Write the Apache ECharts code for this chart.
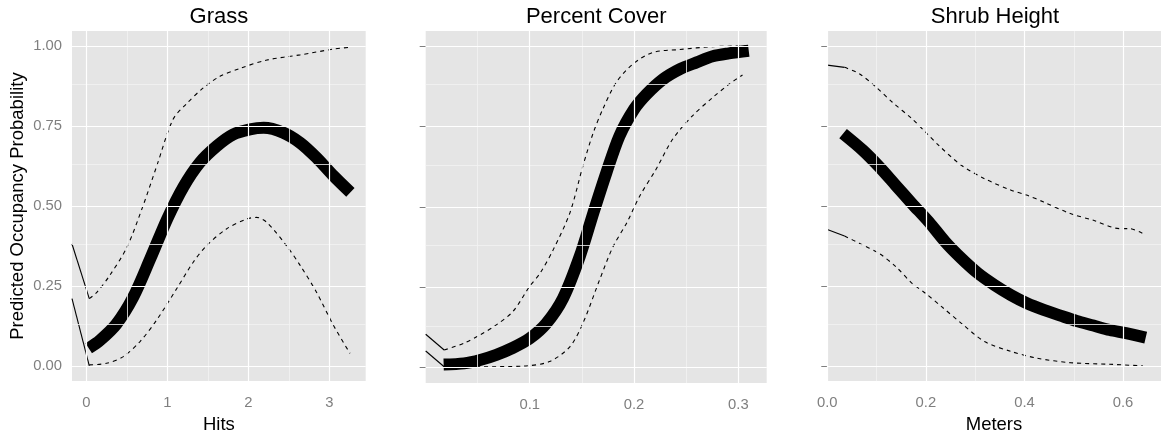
<!DOCTYPE html>
<html><head><meta charset="utf-8">
<script src="https://cdn.jsdelivr.net/npm/echarts@6/dist/echarts.min.js"></script>
<style>html,body{margin:0;padding:0;background:#fff}#c{width:1161px;height:439px}</style>
</head><body><div id="c"></div>
<script>
// ---------- titles / labels ----------
const panelTitles = ['Grass', 'Percent Cover', 'Shrub Height'];
const xTitles = ['Hits', '', 'Meters'];
const yTitle = 'Predicted Occupancy Probability';

// ---------- tick values ----------
const yTicks = [0, 0.25, 0.5, 0.75, 1.0];
const yMinor = [0.125, 0.375, 0.625, 0.875];
const grassXTicks = [0, 1, 2, 3];
const grassXMinor = [0.5, 1.5, 2.5];
const coverXTicks = [0.1, 0.2, 0.3];
const coverXMinor = [0.05, 0.15, 0.25];
const shrubXTicks = [0.0, 0.2, 0.4, 0.6];
const shrubXMinor = [0.1, 0.3, 0.5];

// ---------- Grass ----------
const grassFitX = [0.03,0.17,0.37,0.58,0.79,1.0,1.2,1.4,1.61,1.81,2.02,2.19,2.43,2.64,2.84,3.05,3.26];
const grassFitY = [0.055,0.08,0.13,0.215,0.335,0.46,0.56,0.635,0.687,0.723,0.739,0.744,0.729,0.697,0.651,0.594,0.542];
const grassHiX = [0.037,0.13,0.29,0.5,0.70,0.87,1.07,1.24,1.44,1.65,1.90,2.23,2.64,3.05,3.26];
const grassHiY = [0.21,0.23,0.283,0.37,0.50,0.625,0.77,0.82,0.868,0.905,0.93,0.956,0.972,0.99,0.996];
const grassLoX = [0.037,0.25,0.457,0.663,0.868,1.115,1.32,1.486,1.73,1.98,2.1,2.226,2.47,2.64,2.84,3.05,3.255];
const grassLoY = [0.003,0.008,0.029,0.076,0.143,0.241,0.324,0.376,0.428,0.459,0.464,0.449,0.376,0.314,0.231,0.127,0.039];
const grassHiLeadX = [-0.1765, 0.037];
const grassHiLeadY = [0.381, 0.21];
const grassLoLeadX = [-0.1765, 0.037];
const grassLoLeadY = [0.21, 0.0];

// ---------- Percent Cover ----------
const coverFitX = [0.0175,0.037,0.0525,0.068,0.084,0.1,0.116,0.132,0.148,0.161,0.1735,0.186,0.2,0.212,0.228,0.244,0.26,0.2755,0.291,0.31];
const coverFitY = [0.01,0.0135,0.024,0.04,0.062,0.091,0.138,0.216,0.346,0.481,0.606,0.72,0.803,0.85,0.897,0.928,0.949,0.968,0.977,0.985];
const coverHiX = [0.018,0.037,0.0525,0.068,0.084,0.1,0.11,0.1226,0.1385,0.151,0.161,0.170,0.183,0.199,0.218,0.244,0.2755,0.31];
const coverHiY = [0.055,0.076,0.102,0.133,0.175,0.253,0.294,0.367,0.481,0.627,0.731,0.803,0.887,0.944,0.98,0.989,0.998,1.0];
const coverLoX = [0.018,0.0525,0.094,0.119,0.1385,0.151,0.167,0.18,0.193,0.2054,0.221,0.237,0.256,0.2755,0.291,0.304];
const coverLoY = [0.003,0.003,0.005,0.019,0.065,0.138,0.273,0.377,0.45,0.533,0.616,0.71,0.783,0.84,0.881,0.91];
const coverHiLeadX = [0.0003, 0.018];
const coverHiLeadY = [0.104, 0.055];
const coverLoLeadX = [0.0003, 0.018];
const coverLoLeadY = [0.052, 0.003];

// ---------- Shrub Height ----------
const shrubFitX = [0.032,0.072,0.1055,0.139,0.172,0.206,0.239,0.272,0.306,0.339,0.373,0.406,0.439,0.473,0.506,0.54,0.573,0.606,0.646];
const shrubFitY = [0.726,0.674,0.622,0.564,0.507,0.45,0.388,0.336,0.289,0.253,0.221,0.195,0.175,0.157,0.14,0.126,0.112,0.102,0.088];
const shrubHiX = [0.035,0.065,0.099,0.132,0.172,0.199,0.226,0.272,0.319,0.373,0.406,0.439,0.493,0.54,0.593,0.613,0.64];
const shrubHiY = [0.933,0.913,0.871,0.824,0.772,0.731,0.689,0.627,0.585,0.549,0.533,0.512,0.476,0.455,0.429,0.429,0.414];
const shrubLoX = [0.035,0.065,0.1055,0.139,0.172,0.199,0.232,0.272,0.319,0.373,0.426,0.493,0.573,0.64];
const shrubLoY = [0.406,0.383,0.351,0.31,0.258,0.227,0.185,0.133,0.076,0.045,0.024,0.01,0.005,0.0];
const shrubHiLeadX = [0.0, 0.035];
const shrubHiLeadY = [0.94, 0.933];
const shrubLoLeadX = [0.0, 0.035];
const shrubLoLeadY = [0.426, 0.406];

// ---------- build ----------
const zip = (xs, ys) => xs.map((x, i) => [x, ys[i]]);
const FONT = 'Liberation Sans, Arial, sans-serif';
const GREY = '#7F7F7F';

const panels = [
  {left: 72, width: 293.7, xmin: -0.1765, xmax: 3.449, ticks: grassXTicks, minor: grassXMinor,
   fit: zip(grassFitX, grassFitY), hi: zip(grassHiX, grassHiY), lo: zip(grassLoX, grassLoY),
   leads: [zip(grassHiLeadX, grassHiLeadY), zip(grassLoLeadX, grassLoLeadY)], fmt: v => String(v)},
  {left: 425.7, width: 341, xmin: 0.0003, xmax: 0.3272, ticks: coverXTicks, minor: coverXMinor,
   fit: zip(coverFitX, coverFitY), hi: zip(coverHiX, coverHiY), lo: zip(coverLoX, coverLoY),
   leads: [zip(coverHiLeadX, coverHiLeadY), zip(coverLoLeadX, coverLoLeadY)], fmt: v => v.toFixed(1)},
  {left: 827, width: 336, xmin: -0.0006, xmax: 0.677, ticks: shrubXTicks, minor: shrubXMinor,
   fit: zip(shrubFitX, shrubFitY), hi: zip(shrubHiX, shrubHiY), lo: zip(shrubLoX, shrubLoY),
   leads: [zip(shrubHiLeadX, shrubHiLeadY), zip(shrubLoLeadX, shrubLoLeadY)], fmt: v => v.toFixed(1)}
];

const YMIN = -0.0476, YMAX = 1.0466;
const grid = [], xAxis = [], yAxis = [], series = [], title = [];

panels.forEach((p, i) => {
  grid.push({left: p.left, top: 31, width: p.width, height: 352, show: true,
             backgroundColor: '#E5E5E5', borderWidth: 0, containLabel: false});
  title.push({text: panelTitles[i], left: p.left + p.width / 2, top: 6,
              textAlign: 'center', padding: 0,
              textStyle: {fontFamily: FONT, fontSize: 22, fontWeight: 'normal', color: '#000'}});
  xAxis.push({type: 'value', gridIndex: i, min: p.xmin, max: p.xmax,
    axisLine: {show: false},
    axisTick: {show: true, length: 6, customValues: p.ticks, lineStyle: {color: GREY, width: 1}},
    axisLabel: {show: true, customValues: p.ticks, margin: 14, color: GREY, fontSize: 14.8,
                fontFamily: FONT, formatter: p.fmt},
    splitLine: {show: false},
    name: xTitles[i], nameLocation: 'middle', nameGap: 33,
    nameTextStyle: {fontFamily: FONT, fontSize: 18.5, color: '#000'}});
  yAxis.push({type: 'value', gridIndex: i, min: YMIN, max: YMAX,
    axisLine: {show: false},
    axisTick: {show: true, length: 6, customValues: yTicks, lineStyle: {color: GREY, width: 1}},
    axisLabel: {show: i === 0, customValues: yTicks, margin: 10, color: GREY, fontSize: 14.8,
                fontFamily: FONT, formatter: v => v.toFixed(2)},
    splitLine: {show: false},
    name: i === 0 ? yTitle : '', nameLocation: 'middle', nameGap: 45,
    nameTextStyle: {fontFamily: FONT, fontSize: 18.5, color: '#000'}});

  // grid lines (minor then major)
  const ml = [];
  p.minor.forEach(v => ml.push({xAxis: v, lineStyle: {color: '#F2F2F2', width: 0.8, type: 'solid'}}));
  yMinor.forEach(v => ml.push({yAxis: v, lineStyle: {color: '#F2F2F2', width: 0.8, type: 'solid'}}));
  p.ticks.forEach(v => ml.push({xAxis: v, lineStyle: {color: '#FFFFFF', width: 1.2, type: 'solid'}}));
  yTicks.forEach(v => ml.push({yAxis: v, lineStyle: {color: '#FFFFFF', width: 1.2, type: 'solid'}}));
  series.push({type: 'line', xAxisIndex: i, yAxisIndex: i, data: [], z: 1, silent: true,
    markLine: {symbol: 'none', silent: true, label: {show: false}, animation: false, data: ml}});

  const thin = (data, dashed) => ({type: 'line', xAxisIndex: i, yAxisIndex: i, data, z: 3,
    showSymbol: false, symbol: 'none', smooth: 0.3, clip: true, silent: true,
    lineStyle: {color: '#000', width: 1.1, type: dashed ? [4, 4] : 'solid'}});
  p.leads.forEach(d => series.push(thin(d, false)));
  series.push(thin(p.hi, true));
  series.push(thin(p.lo, true));
  series.push({type: 'line', xAxisIndex: i, yAxisIndex: i, data: p.fit, z: 4,
    showSymbol: false, symbol: 'none', smooth: 0.3, clip: true, silent: true,
    lineStyle: {color: '#000', width: 12, cap: 'butt', join: 'round'}});
});

const chart = echarts.init(document.getElementById('c'), null, {renderer: 'canvas'});
chart.setOption({animation: false, backgroundColor: '#fff', title, grid, xAxis, yAxis, series});
</script>
</body></html>
